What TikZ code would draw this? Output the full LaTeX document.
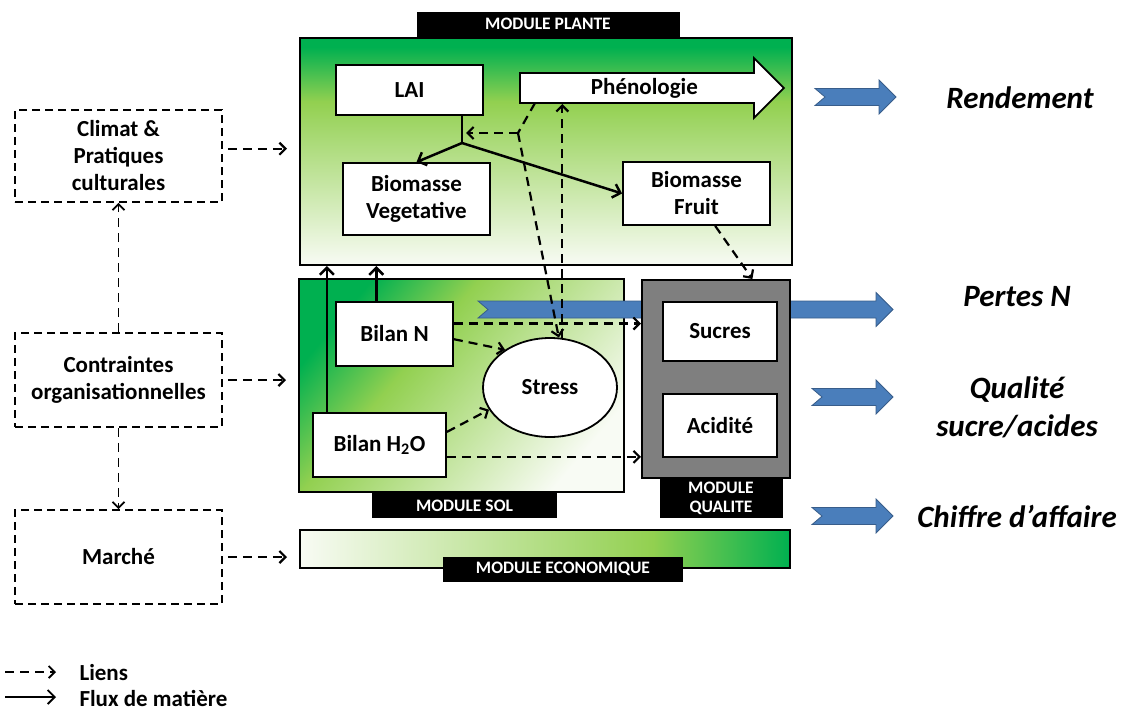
\documentclass[tikz,border=0pt]{standalone}
\usepackage{fontspec}
\setmainfont{Carlito}
\usetikzlibrary{shapes.geometric, shapes.arrows, arrows.meta, positioning}

\definecolor{dgreen}{RGB}{0,176,80}
\definecolor{lgreen}{RGB}{146,208,80}
\definecolor{pgreen}{RGB}{248,251,244}
\definecolor{qgray}{RGB}{127,127,127}
\definecolor{bluefill}{RGB}{74,126,187}
\definecolor{blueline}{RGB}{56,93,138}

\pgfdeclareverticalshading{plantshade}{100bp}{color(0bp)=(pgreen); color(25bp)=(pgreen); color(61bp)=(lgreen); color(73bp)=(dgreen); color(100bp)=(dgreen)}
\pgfdeclarehorizontalshading{solshade}{100bp}{color(0bp)=(dgreen); color(25bp)=(dgreen); color(40bp)=(lgreen); color(75bp)=(pgreen); color(100bp)=(pgreen)}
\pgfdeclarehorizontalshading{ecoshade}{100bp}{color(0bp)=(pgreen); color(25bp)=(pgreen); color(61bp)=(lgreen); color(75bp)=(dgreen); color(100bp)=(dgreen)}

\tikzstyle{flux} = [line width=2.5pt, -{Straight Barb[length=7pt, width=14pt]}]
\tikzstyle{fluxline} = [line width=2.5pt]
\tikzstyle{link} = [line width=2.2pt, dash pattern=on 9pt off 6pt, -{Straight Barb[length=6pt, width=12pt]}]
\tikzstyle{linkline} = [line width=2.2pt, dash pattern=on 9pt off 6pt]
\tikzstyle{box} = [rectangle, draw=black, fill=white, line width=1.8pt, text centered, align=center]
\tikzstyle{outside} = [rectangle, draw=black, line width=1.8pt, dash pattern=on 8pt off 5pt, minimum width=207pt, minimum height=94pt, align=center]
\tikzstyle{module} = [rectangle, draw=black, line width=2pt]
\tikzstyle{tag} = [rectangle, fill=black, text=white, font=\bfseries\fontsize{17.5}{19}\selectfont, minimum height=25pt, inner sep=0pt, align=center]
\tikzstyle{result} = [font=\bfseries\itshape\fontsize{31}{38}\selectfont, align=center]
\tikzset{
  pics/bluearrow/.style={code={
    \filldraw[fill=bluefill, draw=blueline, line width=0.8pt]
      (0,-8.5) -- (#1-17,-8.5) -- (#1-17,-17) -- (#1,0) -- (#1-17,17) -- (#1-17,8.5) -- (0,8.5) -- (10,0) -- cycle;
  }}
}

\begin{document}
\begin{tikzpicture}[x=1pt, y=-1pt, font=\bfseries\fontsize{23}{27}\selectfont]
\useasboundingbox (0,0) rectangle (1122,710);

% Modules
\node (plante) [module, shade, shading=plantshade, minimum width=492pt, minimum height=227pt] at (546,151.5) {};
\node (planteTag) [tag, minimum width=263pt, above=0pt of plante, xshift=2pt] {MODULE PLANTE};
\node (sol) [module, shade, shading=solshade, shading angle=-40, minimum width=325pt, minimum height=213pt] at (461.5,385.5) {};
\node (solTag) [tag, minimum width=185pt, below=0pt of sol, xshift=3pt] {MODULE SOL};
\node (eco) [module, shade, shading=ecoshade, minimum width=490pt, minimum height=38pt] at (545,549) {};
\node (ecoTag) [tag, minimum width=240pt] at ([xshift=18pt]eco.south) {MODULE ECONOMIQUE};

% N losses band, behind the quality module
\pic at (478,309.5) {bluearrow=415};

\node (qualite) [module, fill=qgray, minimum width=148pt, minimum height=198pt] at (716,379) {};
\node (qualiteTag) [tag, minimum width=123pt, minimum height=39pt, below=0pt of qualite, xshift=5pt] {MODULE\\QUALITE};

% Plant nodes
\node (lai) [box, minimum width=147pt, minimum height=50pt] at (409.5,90) {LAI};
\node (pheno) [box, single arrow, single arrow head extend=15pt, minimum height=264pt, minimum width=60pt, anchor=tail, inner ysep=4pt] at (519,88) {Phénologie};
\node (bioveg) [box, minimum width=147pt, minimum height=72pt] at (416.5,199) {Biomasse\\Vegetative};
\node (biofruit) [box, minimum width=147pt, minimum height=63pt] at (696.5,193.5) {Biomasse\\Fruit};

% Soil nodes
\node (bilanN) [box, minimum width=117pt, minimum height=64pt] at (394.5,334) {Bilan N};
\node (bilanH) [box, minimum width=133pt, minimum height=64pt] at (379.5,445) {Bilan H\textsubscript{2}O};
\node (stress) [ellipse, draw=black, fill=white, line width=1.8pt, minimum width=134pt, minimum height=99pt] at (550,387.5) {Stress};

% Quality nodes
\node (sucres) [box, minimum width=114pt, minimum height=59pt] at (720,331.5) {Sucres};
\node (acidite) [box, minimum width=114pt, minimum height=63pt, below=31pt of sucres] {Acidité};

% Outside drivers
\node (climat) [outside, minimum height=92pt] at (118.5,156) {Climat \&\\Pratiques\\culturales};
\node (contraintes) [outside] at (118.5,380) {Contraintes\\organisationnelles};
\node (marche) [outside] at (118.5,557) {Marché};

% Outputs
\pic at (815,97) {bluearrow=81};
\pic at (812,397) {bluearrow=81};
\pic at (812,516) {bluearrow=81};
\node (rendement) [result] at (1020,98) {Rendement};
\node (pertes) [result] at (1017,297) {Pertes N};
\node (qualiteOut) [result] at (1017,407) {Qualité\\sucre/acides};
\node (chiffre) [result] at (1017,516) {Chiffre d’affaire};

% Helper points
\coordinate (fork) at (462,143);
\coordinate (split) at (518,133);
\coordinate (phenoA) at (535,103);
\coordinate (phenoB) at (563,104);

% Flux (solid)
\draw [fluxline] (lai.south -| fork) -- (fork);
\draw [flux] (fork) -- (bioveg.north);
\draw [flux] (fork) -- (biofruit.west);
\draw [flux] (bilanH.148) -- (bilanH.148 |- plante.south);
\draw [flux] (bilanN.119) -- (bilanN.119 |- plante.south);

% Links (dashed)
\draw [linkline] (phenoA) -- (split);
\draw [link, shorten >=4pt] (split) -- (split -| fork);
\draw [link] (split) -- (stress.80);
\draw [link] (stress.76) -- (stress.76 |- phenoB);
\draw [link] (biofruit.-60) -- (qualite.70);
\draw [link] (bilanN.10) -- (bilanN.10 -| qualite.west);
\draw [link] (bilanN.-5) -- (stress.140);
\draw [link] (bilanH.11) -- (stress.200);
\draw [link] (bilanH.-10) -- (bilanH.-10 -| qualite.west);

% Drivers
\draw [link, shorten <=5pt, shorten >=12pt] (climat.4) -- (climat.4 -| plante.west);
\draw [link, shorten <=5pt, shorten >=12pt] (contraintes.east) -- (contraintes.east -| sol.west);
\draw [link, shorten <=5pt, shorten >=12pt] (marche.east) -- (marche.east -| eco.west);
\draw [link, line width=1.8pt] (contraintes.north) -- (climat.south);
\draw [link, line width=1.8pt] (contraintes.south) -- (marche.north);

% Legend
\node (liensLbl) [anchor=west, font=\bfseries\fontsize{23}{25}\selectfont] at (76,673) {Liens};
\node (fluxLbl) [anchor=west, font=\bfseries\fontsize{23}{25}\selectfont] at (76,698) {Flux de matière};
\coordinate (legLink) at (5,672);
\coordinate (legFlux) at (5,697);
\draw [link, line width=1.8pt, shorten >=20pt] (legLink) -- (legLink -| liensLbl.west);
\draw [flux, line width=1.8pt, shorten >=20pt] (legFlux) -- (legFlux -| fluxLbl.west);
\end{tikzpicture}
\end{document}
